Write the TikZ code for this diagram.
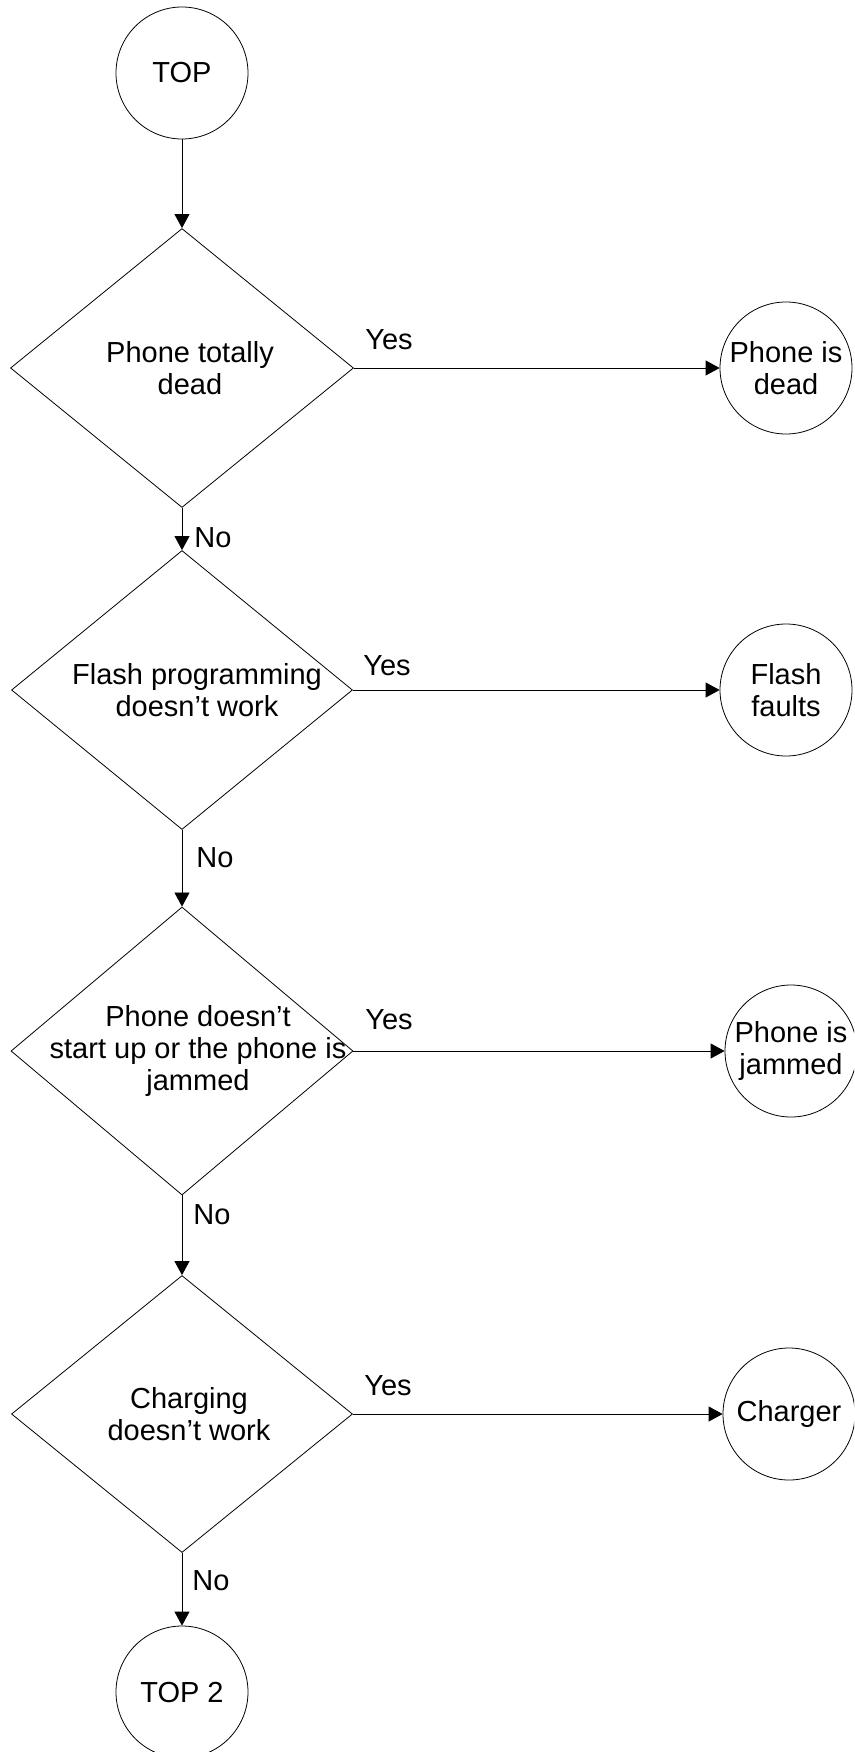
\documentclass[tikz,border=0pt]{standalone}
\usepackage{fontspec}
\setmainfont{Liberation Sans}
\usetikzlibrary{shapes.geometric,arrows.meta}
\begin{document}
\begin{tikzpicture}[x=1pt,y=-1pt,
  every node/.style={font=\fontsize{29}{32}\selectfont},
  term/.style={draw,circle,minimum size=132pt,inner sep=0pt,line width=0.8pt,align=center},
  dec/.style={draw,diamond,inner sep=0pt,line width=0.8pt},
  txt/.style={align=center,inner sep=0pt},
  flow/.style={line width=0.8pt,-{Triangle[length=14pt,width=15pt]}},
  lab/.style={inner sep=0pt}]
\clip (0,0) rectangle (854,1752);
% terminals
\node[term] (top) at (182,73) {TOP};
\node[term] (top2) at (182,1692) {TOP 2};
\node[term] (c1) at (786,368) {Phone is\\dead};
\node[term] (c2) at (786,690) {Flash\\faults};
\node[term] (c3) at (791,1051) {Phone is\\jammed};
\node[term] (c4) at (789,1414) {Charger};
% decisions
\node[dec,minimum width=343pt,minimum height=279pt] (d1) at (182,368) {};
\node[dec,minimum width=341pt,minimum height=279pt] (d2) at (182,690) {};
\node[dec,minimum width=342pt,minimum height=288pt] (d3) at (182,1051) {};
\node[dec,minimum width=341pt,minimum height=277pt] (d4) at (182,1414) {};
\node[txt] (t1) at ([xshift=8pt]d1.center) {Phone totally\\dead};
\node[txt] (t2) at ([xshift=15pt]d2.center) {Flash programming\\doesn’t work};
\node[txt] (t3) at ([xshift=16pt]d3.center) {Phone doesn’t\\start up or the phone is\\jammed};
\node[txt] (t4) at ([xshift=7pt]d4.center) {Charging\\doesn’t work};
% connectors
\draw[flow] (top) -- (d1);
\draw[flow] (d1) -- (d2);
\draw[flow] (d2) -- (d3);
\draw[flow] (d3) -- (d4);
\draw[flow] (d4) -- (top2);
\draw[flow] (d1) -- (c1);
\draw[flow] (d2) -- (c2);
\draw[flow] (d3) -- (c3);
\draw[flow] (d4) -- (c4);
% labels
\node[lab] (y1) at (389,340) {Yes};
\node[lab] (y2) at (387,666) {Yes};
\node[lab] (y3) at (389,1020) {Yes};
\node[lab] (y4) at (388,1386) {Yes};
\node[lab] (n1) at (213,538) {No};
\node[lab] (n2) at (215,858) {No};
\node[lab] (n3) at (212,1215) {No};
\node[lab] (n4) at (211,1581) {No};
\end{tikzpicture}
\end{document}
